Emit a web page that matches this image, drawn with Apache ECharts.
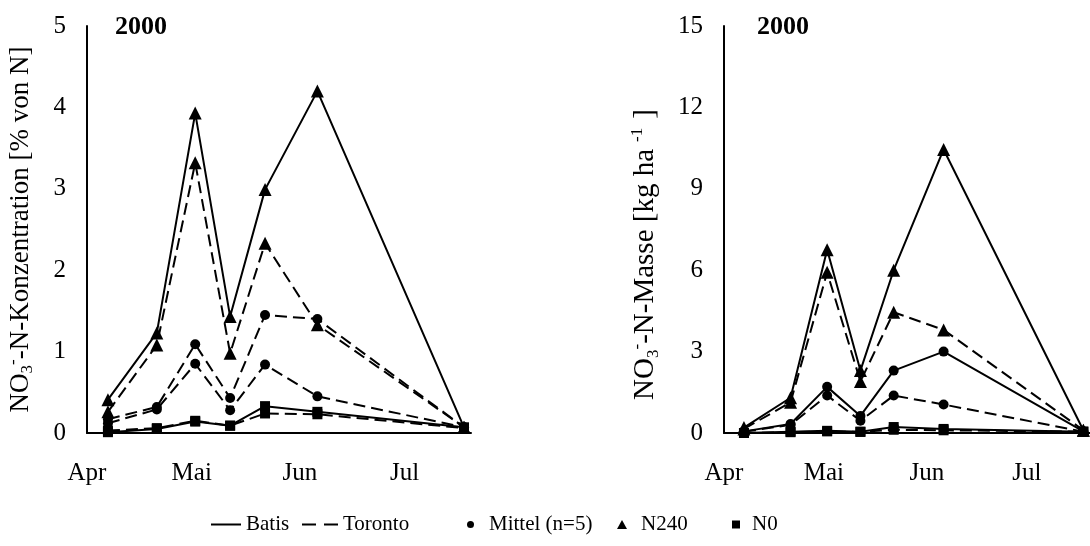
<!DOCTYPE html>
<html>
<head>
<meta charset="utf-8">
<script src="https://cdn.jsdelivr.net/npm/echarts@6/dist/echarts.min.js"></script>
<style>
  html, body { margin: 0; padding: 0; background: #fff; }
  #chart { width: 1090px; height: 546px; }
</style>
</head>
<body>
<div id="chart"></div>
<script>
// Probenahmetermine 2000
const sampleDates = ['2000-04-07', '2000-04-21', '2000-05-02', '2000-05-12', '2000-05-22', '2000-06-06', '2000-07-18']
const monthStarts = ['2000-04-01', '2000-05-01', '2000-06-01', '2000-07-01']
const monthLabels = ['Apr', 'Mai', 'Jun', 'Jul']

// NO3-N-Konzentration [% von N]
const konzBatisMittel = [0.17, 0.32, 1.09, 0.43, 1.45, 1.40, 0.07]
const konzTorontoMittel = [0.12, 0.29, 0.85, 0.28, 0.84, 0.45, 0.07]
const konzBatisN240 = [0.41, 1.23, 3.93, 1.43, 2.99, 4.20, 0.07]
const konzTorontoN240 = [0.26, 1.08, 3.32, 0.98, 2.33, 1.33, 0.07]
const konzBatisN0 = [0.01, 0.05, 0.14, 0.09, 0.33, 0.26, 0.07]
const konzTorontoN0 = [0.03, 0.06, 0.15, 0.09, 0.24, 0.23, 0.06]

// NO3-N-Masse [kg ha-1]
const masseBatisMittel = [0.06, 0.33, 1.70, 0.63, 2.30, 3.00, 0.06]
const masseTorontoMittel = [0.05, 0.30, 1.38, 0.45, 1.38, 1.05, 0.05]
const masseBatisN240 = [0.20, 1.30, 6.75, 2.30, 6.00, 10.45, 0.10]
const masseTorontoN240 = [0.15, 1.13, 5.92, 1.90, 4.45, 3.80, 0.10]
const masseBatisN0 = [0.00, 0.05, 0.08, 0.05, 0.22, 0.15, 0.05]
const masseTorontoN0 = [0.00, 0.03, 0.06, 0.04, 0.12, 0.10, 0.05]

const font = 'Liberation Serif'
const dayMs = 24 * 3600 * 1000
const toDay = (d) => Math.round((Date.parse(d) - Date.parse('2000-04-01')) / dayMs)
const sampleDays = sampleDates.map(toDay)
const monthDays = monthStarts.map(toDay)

const dash = [12, 6]
const makeLine = (name, values, idx, symbol, size, dashed) => {
  return {
    name: name,
    type: 'line',
    xAxisIndex: idx,
    yAxisIndex: idx,
    data: values.map((v, i) => [sampleDays[i], v]),
    symbol: symbol,
    symbolSize: size,
    showAllSymbol: true,
    animation: false,
    lineStyle: { color: '#000', width: 2, type: dashed ? dash : 'solid' },
    itemStyle: { color: '#000' },
    emphasis: { disabled: true }
  }
}
// series without data, only so the legends have something to point at
const legendDummy = (name) => {
  return { name: name, type: 'line', data: [], itemStyle: { color: '#000' } }
}

const richFor = (size) => ({
  a: { fontSize: size, fontFamily: font, color: '#000', lineHeight: size + 4 },
  b: { fontSize: 17, fontFamily: font, color: '#000', lineHeight: 15, verticalAlign: 'bottom' },
  c: { fontSize: 17, fontFamily: font, color: '#000', lineHeight: 15, verticalAlign: 'top' },
  d: { fontSize: 17, fontFamily: font, color: '#000', lineHeight: 15, verticalAlign: 'top', padding: [0, 9, 0, 7] }
})

const xAxisFor = (idx) => ({
  type: 'value',
  gridIndex: idx,
  min: 0,
  max: 110,
  axisLine: { show: true, onZero: false, lineStyle: { color: '#000', width: 2 } },
  axisTick: { show: false },
  splitLine: { show: false },
  axisLabel: {
    customValues: monthDays,
    formatter: (v) => monthLabels[monthDays.indexOf(v)],
    fontSize: 25,
    fontFamily: font,
    color: '#000',
    margin: 28
  }
})

const legendFor = (name, left, width, height, icon, gap) => ({
  left: left,
  top: 514,
  padding: 0,
  itemWidth: width,
  itemHeight: height,
  symbolKeepAspect: false,
  selectedMode: false,
  data: [{ name: name, icon: icon }],
  textStyle: { fontSize: 21, fontFamily: font, color: '#000', padding: [0, 0, 0, gap] }
})

const chart = echarts.init(document.getElementById('chart'))
chart.setOption({
  animation: false,
  textStyle: { fontFamily: font },
  title: [
    { text: '2000', left: 115, top: 14, padding: 0, textStyle: { fontSize: 26, fontWeight: 'bold', fontFamily: font, color: '#000' } },
    { text: '2000', left: 757, top: 14, padding: 0, textStyle: { fontSize: 26, fontWeight: 'bold', fontFamily: font, color: '#000' } }
  ],
  grid: [
    { left: 87, top: 26, width: 384, height: 407 },
    { left: 724, top: 26, width: 371, height: 407 }
  ],
  xAxis: [xAxisFor(0), xAxisFor(1)],
  yAxis: [
    {
      type: 'value',
      gridIndex: 0,
      min: 0,
      max: 5,
      interval: 1,
      axisLine: { show: true, lineStyle: { color: '#000', width: 2 } },
      axisTick: { show: false },
      splitLine: { show: false },
      axisLabel: { fontSize: 25, fontFamily: font, color: '#000', margin: 21 },
      name: '{a|NO}{b|3}{c|-}{a|-N-Konzentration [% von N]}',
      nameLocation: 'middle',
      nameRotate: 90,
      nameGap: 51,
      nameTextStyle: { rich: richFor(27) }
    },
    {
      type: 'value',
      gridIndex: 1,
      min: 0,
      max: 15,
      interval: 3,
      axisLine: { show: true, lineStyle: { color: '#000', width: 2 } },
      axisTick: { show: false },
      splitLine: { show: false },
      axisLabel: { fontSize: 25, fontFamily: font, color: '#000', margin: 21 },
      name: '{a|NO}{b|3}{c|-}{a|-N-Masse [kg ha}{d|-1}{a|]}',
      nameLocation: 'middle',
      nameRotate: 90,
      nameGap: 62,
      nameTextStyle: { rich: richFor(29), padding: [0, 50, 0, 0] }
    }
  ],
  legend: [
    legendFor('Batis', 211, 30, 2, 'path://M0,0h30v2h-30z', 0),
    legendFor('Toronto', 302, 36, 2, 'path://M0,0h14v2h-14z M22,0h14v2h-14z', 0),
    legendFor('Mittel (n=5)', 467, 7, 7, 'circle', 10),
    legendFor('N240', 617, 10, 9, 'triangle', 9),
    legendFor('N0', 732, 8, 8, 'rect', 7)
  ],
  series: [
    makeLine('Batis Mittel', konzBatisMittel, 0, 'circle', 10, true),
    makeLine('Toronto Mittel', konzTorontoMittel, 0, 'circle', 10, true),
    makeLine('Batis N240', konzBatisN240, 0, 'triangle', 13, false),
    makeLine('Toronto N240', konzTorontoN240, 0, 'triangle', 13, true),
    makeLine('Batis N0', konzBatisN0, 0, 'rect', 10, false),
    makeLine('Toronto N0', konzTorontoN0, 0, 'rect', 10, true),
    makeLine('Batis Mittel 2', masseBatisMittel, 1, 'circle', 10, false),
    makeLine('Toronto Mittel 2', masseTorontoMittel, 1, 'circle', 10, true),
    makeLine('Batis N240 2', masseBatisN240, 1, 'triangle', 13, false),
    makeLine('Toronto N240 2', masseTorontoN240, 1, 'triangle', 13, true),
    makeLine('Batis N0 2', masseBatisN0, 1, 'rect', 10, false),
    makeLine('Toronto N0 2', masseTorontoN0, 1, 'rect', 10, true),
    legendDummy('Batis'),
    legendDummy('Toronto'),
    legendDummy('Mittel (n=5)'),
    legendDummy('N240'),
    legendDummy('N0')
  ]
})
</script>
</body>
</html>
